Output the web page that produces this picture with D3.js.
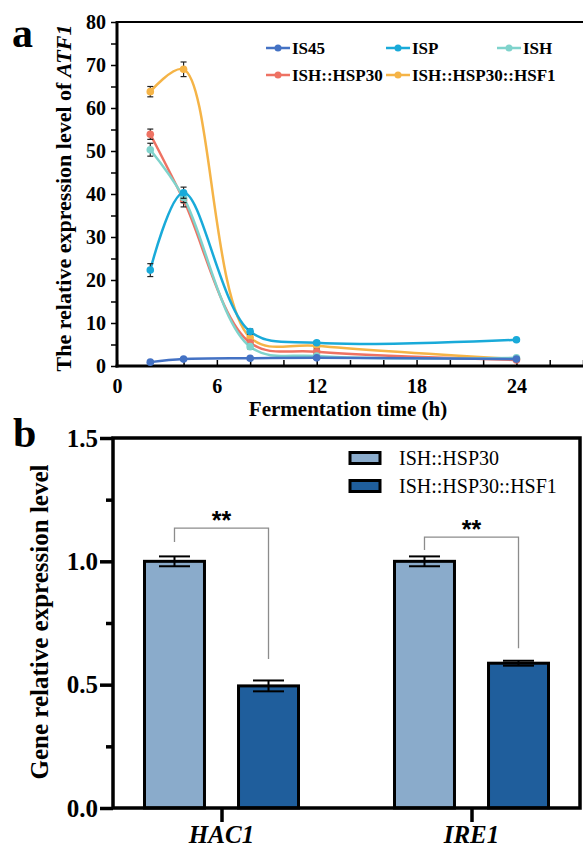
<!DOCTYPE html>
<html>
<head>
<meta charset="utf-8">
<script src="https://cdn.jsdelivr.net/npm/d3@7"></script>
<style>
body { margin: 0; background: #fff; }
svg text { font-family: "Liberation Serif", "Times New Roman", Times, "DejaVu Serif", serif; }
svg text.sans { font-family: "Liberation Sans", Arial, sans-serif; }
</style>
</head>
<body>
<div id="chart"></div>
<script>
// ---- panel a: ATF1 over fermentation time ----
const hours = [2, 4, 8, 12, 24];
const seriesNames = ["IS45", "ISP", "ISH", "ISH::HSP30", "ISH::HSP30::HSF1"];
const seriesColors = ["#4472c4", "#19aad9", "#7fd3cc", "#ee7263", "#f5b447"];
const is45 = [0.9, 1.6, 1.8, 1.9, 1.6];
const isp = [22.3, 40.3, 8.0, 5.4, 6.1];
const ish = [50.3, 39.2, 4.5, 2.3, 1.9];
const hsp30 = [53.9, 38.6, 5.4, 3.3, 1.4];
const hsf1 = [63.8, 69.0, 6.6, 4.7, 1.6];
const is45Err = [0.3, 0.3, 0.3, 0.3, 0.3];
const ispErr = [1.5, 1.3, 0.6, 0.4, 0.3];
const ishErr = [1.5, 1.2, 0.5, 0.3, 0.3];
const hsp30Err = [1.2, 1.6, 0.5, 0.6, 0.3];
const hsf1Err = [1.2, 1.7, 0.6, 0.5, 0.3];
const xTicksA = [0, 6, 12, 18, 24];

// ---- panel b: HAC1 / IRE1 ----
const genes = ["HAC1", "IRE1"];
const strains = ["ISH::HSP30", "ISH::HSP30::HSF1"];
const strainColors = ["#8aabcb", "#1f5e9c"];
const hspVals = [1.0, 1.0];
const hspErr = [0.02, 0.02];
const hsfVals = [0.495, 0.587];
const hsfErr = [0.022, 0.01];
const sigLabels = ["**", "**"];
const bracketTop = [1.135, 1.098];
const bracketLeft = [1.078, 1.046];
const bracketRight = [0.604, 0.648];

const W = 583, H = 850;
const svg = d3.select("#chart").append("svg").attr("width", W).attr("height", H);

// ================= panel a =================
const ga = svg.append("g");
const xA = d3.scaleLinear().domain([0, 28]).range([117, 583]);
const yA = d3.scaleLinear().domain([0, 80]).range([366, 22]);

let yAxisA = d3.axisLeft(yA).tickValues(d3.range(0, 81, 5)).tickSizeInner(6).tickSizeOuter(0).tickPadding(5)
    .tickFormat(d => d % 10 === 0 ? d : "");
let gyA = ga.append("g").attr("transform", "translate(117,0)").call(yAxisA);
gyA.attr("font-family", null);
gyA.select(".domain").remove();
gyA.selectAll(".tick line").attr("stroke", "#000").attr("stroke-width", 1.5);
gyA.selectAll(".tick text").attr("font-size", 20).attr("font-weight", "bold");

let xAxisA = d3.axisBottom(xA).tickValues(d3.range(0, 29, 2)).tickSizeInner(-6).tickSizeOuter(0).tickPadding(13)
    .tickFormat(d => xTicksA.includes(d) ? d : "");
let gxA = ga.append("g").attr("transform", "translate(0,366)").call(xAxisA);
gxA.attr("font-family", null);
gxA.select(".domain").remove();
gxA.selectAll(".tick line").attr("stroke", "#000").attr("stroke-width", 1.5);
gxA.selectAll(".tick text").attr("font-size", 20).attr("font-weight", "bold");

// frame
ga.append("line").attr("x1", 117).attr("x2", 583).attr("y1", 22).attr("y2", 22).attr("stroke", "#000").attr("stroke-width", 2);
ga.append("line").attr("x1", 117).attr("x2", 117).attr("y1", 21).attr("y2", 367.5).attr("stroke", "#000").attr("stroke-width", 3);
ga.append("line").attr("x1", 115.5).attr("x2", 583).attr("y1", 366).attr("y2", 366).attr("stroke", "#000").attr("stroke-width", 3);

const seriesA = [
    { name: seriesNames[0], vals: is45, err: is45Err, color: seriesColors[0] },
    { name: seriesNames[1], vals: isp, err: ispErr, color: seriesColors[1] },
    { name: seriesNames[2], vals: ish, err: ishErr, color: seriesColors[2] },
    { name: seriesNames[3], vals: hsp30, err: hsp30Err, color: seriesColors[3] },
    { name: seriesNames[4], vals: hsf1, err: hsf1Err, color: seriesColors[4] }
];

const lineA = d3.line().x(d => xA(d[0])).y(d => yA(d[1])).curve(d3.curveCatmullRom.alpha(0.5));

// draw in reverse so IS45 sits on top like the original
seriesA.slice().reverse().forEach(s => {
    let pts = hours.map((h, i) => [h, s.vals[i], s.err[i]]);
    ga.append("path").datum(pts).attr("d", lineA)
        .attr("fill", "none").attr("stroke", s.color).attr("stroke-width", 2.5);
    let eb = ga.append("g");
    pts.forEach(p => {
        eb.append("line").attr("x1", xA(p[0])).attr("x2", xA(p[0]))
            .attr("y1", yA(p[1] - p[2])).attr("y2", yA(p[1] + p[2])).attr("stroke", "#222").attr("stroke-width", 1.2);
        [p[1] - p[2], p[1] + p[2]].forEach(v => {
            eb.append("line").attr("x1", xA(p[0]) - 3).attr("x2", xA(p[0]) + 3)
                .attr("y1", yA(v)).attr("y2", yA(v)).attr("stroke", "#222").attr("stroke-width", 1.2);
        });
    });
    ga.append("g").selectAll("circle").data(pts).join("circle")
        .attr("cx", d => xA(d[0])).attr("cy", d => yA(d[1])).attr("r", 3.8).attr("fill", s.color);
});

// legend a
const legPosA = [[266, 48], [386, 48], [497, 48], [266, 75], [386, 75]];
seriesA.forEach((s, i) => {
    let [lx, ly] = legPosA[i];
    let lg = ga.append("g").attr("transform", `translate(${lx},${ly})`);
    lg.append("line").attr("x1", 0).attr("x2", 24).attr("stroke", s.color).attr("stroke-width", 2.5);
    lg.append("circle").attr("cx", 12).attr("r", 3.5).attr("fill", s.color);
    lg.append("text").attr("x", 26).attr("dy", "0.35em").attr("font-size", 17).attr("font-weight", "bold").text(s.name);
});

// titles a
ga.append("text").attr("transform", "translate(71,198) rotate(-90)").attr("text-anchor", "middle")
    .attr("font-size", 22).attr("font-weight", "bold")
    .call(t => {
        t.append("tspan").text("The relative expression level of ");
        t.append("tspan").attr("font-style", "italic").text("ATF1");
    });
ga.append("text").attr("x", 348).attr("y", 416).attr("text-anchor", "middle")
    .attr("font-size", 21).attr("font-weight", "bold").text("Fermentation time (h)");
ga.append("text").attr("x", 12).attr("y", 47).attr("font-size", 42).attr("font-weight", "bold").text("a");

// ================= panel b =================
const gb = svg.append("g");
const yB = d3.scaleLinear().domain([0, 1.5]).range([808, 438]);
const xB = d3.scalePoint().domain(genes).range([113, 580]).padding(0.434);
const xInner = d3.scaleBand().domain(strains).range([-77, 77]).paddingInner(0.362);

let yAxisB = d3.axisLeft(yB).tickValues(d3.range(0, 1.51, 0.25)).tickSizeOuter(0).tickPadding(3)
    .tickFormat(d => Math.abs(d * 2 - Math.round(d * 2)) < 1e-6 ? d3.format(".1f")(d) : "");
let gyB = gb.append("g").attr("transform", "translate(113,0)").call(yAxisB);
gyB.attr("font-family", null);
gyB.select(".domain").remove();
gyB.selectAll(".tick line").attr("stroke", "#000").attr("stroke-width", 3.5)
    .attr("x2", d => Math.abs(d * 2 - Math.round(d * 2)) < 1e-6 ? -13 : -7);
gyB.selectAll(".tick text").attr("font-size", 25).attr("font-weight", "bold").attr("x", -15);

let xAxisB = d3.axisBottom(xB).tickSizeInner(14).tickSizeOuter(0).tickFormat("");
let gxB = gb.append("g").attr("transform", "translate(0,808)").call(xAxisB);
gxB.select(".domain").remove();
gxB.selectAll(".tick line").attr("stroke", "#000").attr("stroke-width", 3.5);

// bars
const barData = [];
genes.forEach((g, i) => {
    barData.push({ gene: g, strain: strains[0], v: hspVals[i], e: hspErr[i], color: strainColors[0] });
    barData.push({ gene: g, strain: strains[1], v: hsfVals[i], e: hsfErr[i], color: strainColors[1] });
});
gb.append("g").selectAll("rect").data(barData).join("rect")
    .attr("x", d => xB(d.gene) + xInner(d.strain))
    .attr("width", xInner.bandwidth())
    .attr("y", d => yB(d.v))
    .attr("height", d => yB(0) - yB(d.v))
    .attr("fill", d => d.color).attr("stroke", "#000").attr("stroke-width", 3);

// error bars
const ebB = gb.append("g");
barData.forEach(d => {
    let cx = xB(d.gene) + xInner(d.strain) + xInner.bandwidth() / 2;
    ebB.append("line").attr("x1", cx).attr("x2", cx).attr("y1", yB(d.v - d.e)).attr("y2", yB(d.v + d.e))
        .attr("stroke", "#000").attr("stroke-width", 2);
    [d.v - d.e, d.v + d.e].forEach(v => {
        ebB.append("line").attr("x1", cx - 15.5).attr("x2", cx + 15.5).attr("y1", yB(v)).attr("y2", yB(v))
            .attr("stroke", "#000").attr("stroke-width", 2);
    });
});

// significance brackets
genes.forEach((g, i) => {
    let xl = xB(g) + xInner(strains[0]) + xInner.bandwidth() / 2;
    let xr = xB(g) + xInner(strains[1]) + xInner.bandwidth() / 2;
    gb.append("path")
        .attr("d", `M${xl},${yB(bracketLeft[i])}V${yB(bracketTop[i])}H${xr}V${yB(bracketRight[i])}`)
        .attr("fill", "none").attr("stroke", "#8c8c8c").attr("stroke-width", 1.3);
    gb.append("text").attr("class", "sans").attr("x", xB(g)).attr("y", yB(bracketTop[i]) + 1).attr("text-anchor", "middle")
        .attr("font-size", 25).attr("font-weight", "bold").text(sigLabels[i]);
});

// frame b
gb.append("rect").attr("x", 113).attr("y", 438).attr("width", 467).attr("height", 370)
    .attr("fill", "none").attr("stroke", "#000").attr("stroke-width", 3.5);

// category labels
genes.forEach(g => {
    gb.append("text").attr("x", xB(g)).attr("y", 843).attr("text-anchor", "middle")
        .attr("font-size", 25).attr("font-weight", "bold").attr("font-style", "italic").text(g);
});

// legend b
strains.forEach((s, i) => {
    let ly = 458 + i * 28;
    gb.append("rect").attr("x", 350).attr("y", ly - 5.5).attr("width", 30).attr("height", 11)
        .attr("fill", strainColors[i]).attr("stroke", "#000").attr("stroke-width", 3);
    gb.append("text").attr("x", 399).attr("y", ly).attr("dy", "0.35em").attr("font-size", 20).text(s);
});

// titles b
gb.append("text").attr("transform", "translate(48,622) rotate(-90)").attr("text-anchor", "middle")
    .attr("font-size", 25).attr("font-weight", "bold").text("Gene relative expression level");
gb.append("text").attr("x", 13).attr("y", 447).attr("font-size", 42).attr("font-weight", "bold").text("b");
</script>
</body>
</html>
